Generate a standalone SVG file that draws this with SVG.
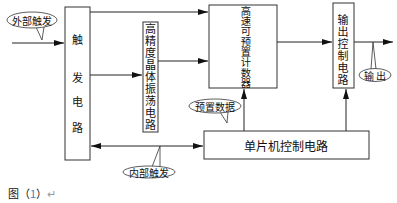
<svg xmlns="http://www.w3.org/2000/svg" width="397" height="203" viewBox="0 0 397 203">
<style>
.box{fill:#fff;stroke:#333;stroke-width:1}
.ln{stroke:#222;stroke-width:1;fill:none}
.t{font-family:"Noto Sans CJK SC","Noto Sans",sans-serif;font-size:11px;fill:#111;text-anchor:middle;dominant-baseline:central}
.vt{font-family:"Noto Sans CJK SC","Noto Sans",sans-serif;fill:#111;text-anchor:middle;writing-mode:vertical-rl}
.c{fill:#fff;stroke:#333;stroke-width:0.8}
</style>
<defs>
<marker id="ah" viewBox="0 0 10 6" refX="10" refY="3" markerWidth="10" markerHeight="6" orient="auto-start-reverse" markerUnits="userSpaceOnUse">
<path d="M0,0 L10,3 L0,6 z" fill="#111"/>
</marker>
</defs>
<rect width="397" height="203" fill="#fff"/>
<g id="connectors">
<line class="ln" x1="12" y1="43" x2="64" y2="43" marker-end="url(#ah)"/>
<line class="ln" x1="90" y1="12" x2="208" y2="12" marker-end="url(#ah)"/>
<line class="ln" x1="90" y1="75" x2="142" y2="75" marker-end="url(#ah)"/>
<line class="ln" x1="158" y1="61" x2="208" y2="61" marker-end="url(#ah)"/>
<line class="ln" x1="277" y1="42" x2="332" y2="42" marker-end="url(#ah)"/>
<line class="ln" x1="354" y1="42" x2="393" y2="42" marker-end="url(#ah)"/>
<line class="ln" x1="244" y1="131" x2="244" y2="89" marker-end="url(#ah)"/>
<line class="ln" x1="346" y1="131" x2="346" y2="89" marker-end="url(#ah)"/>
<line class="ln" x1="91" y1="146" x2="203" y2="146" marker-start="url(#ah)" marker-end="url(#ah)"/>
</g>
<g id="trigger">
<rect class="box" x="65" y="7" width="25" height="153"/>
<text class="t" x="77.5" y="39">触</text>
<text class="t" x="77.5" y="77">发</text>
<text class="t" x="77.5" y="101">电</text>
<text class="t" x="77.5" y="127">路</text>
</g>
<g id="oscillator">
<rect class="box" x="143" y="22" width="15" height="110"/>
<text class="vt" x="150.5" y="77" style="font-size:11px;letter-spacing:1px">高精度晶体振荡电路</text>
</g>
<g id="counter">
<rect class="box" x="209" y="5" width="68" height="83"/>
<text class="vt" x="246" y="47" style="font-size:10.3px">高速可预置计数器</text>
</g>
<g id="output">
<rect class="box" x="333" y="3" width="21" height="85"/>
<text class="vt" x="343" y="50" style="font-size:11px;letter-spacing:1px">输出控制电路</text>
</g>
<g id="mcu">
<rect class="box" x="204" y="131" width="165" height="28"/>
<text class="t" x="286" y="145" style="font-size:12px">单片机控制电路</text>
</g>
<g id="callout-external">
<path class="c" d="M36,27 L42,40 L44,27"/>
<ellipse class="c" cx="32" cy="20" rx="25" ry="8"/>
<text class="t" x="32" y="20" style="font-size:10px">外部触发</text>
</g>
<g id="callout-preset">
<path class="c" d="M220,112 L227,123 L228,112"/>
<ellipse class="c" cx="215" cy="106" rx="26" ry="7"/>
<text class="t" x="215" y="106" style="font-size:10px">预置数据</text>
</g>
<g id="callout-internal">
<path class="c" d="M152,167 L160,146 L160,167"/>
<ellipse class="c" cx="149" cy="172" rx="26" ry="6"/>
<text class="t" x="149" y="172" style="font-size:10px">内部触发</text>
</g>
<g id="callout-out">
<path class="c" d="M371,69 L373,42 L376,69"/>
<ellipse class="c" cx="375" cy="75" rx="16" ry="6.5"/>
<text class="t" x="375" y="75" style="font-size:10px">输 出</text>
</g>
<g id="caption">
<text x="8" y="198" style="font-family:'Noto Sans CJK SC',sans-serif;font-size:11px;fill:#111">图（<tspan fill="#4a7ab8">1</tspan>）<tspan fill="#999">↵</tspan></text>
</g>
</svg>
